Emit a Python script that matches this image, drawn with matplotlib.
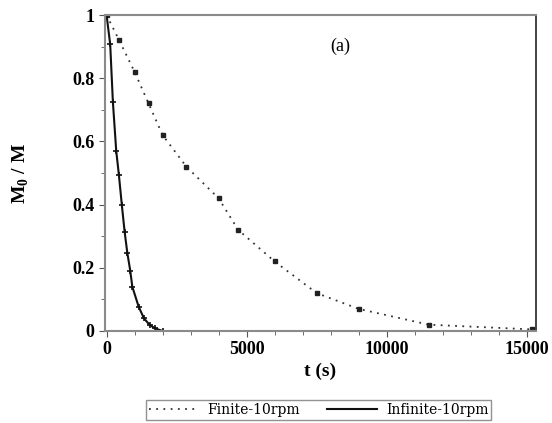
import matplotlib
matplotlib.use("Agg")
import matplotlib.pyplot as plt
from matplotlib.lines import Line2D
from matplotlib.ticker import MultipleLocator

# Data
finite_t = [0, 450, 1000, 1500, 2000, 2850, 4000, 4700, 6000, 7500, 9000, 11500, 15200]
finite_m = [1.0, 0.92, 0.82, 0.72, 0.62, 0.52, 0.42, 0.32, 0.22, 0.12, 0.07, 0.02, 0.005]

infinite_t = [0, 130, 225, 345, 440, 545, 645, 740, 845, 920, 1145, 1335, 1540, 1740, 2000]
infinite_m = [1.0, 0.907, 0.726, 0.57, 0.494, 0.399, 0.314, 0.248, 0.191, 0.14, 0.077,
              0.04, 0.019, 0.008, 0.0]

x_ticks = [0, 5000, 10000, 15000]
y_ticks = [0, 0.2, 0.4, 0.6, 0.8, 1]
y_tick_labels = ["0", "0.2", "0.4", "0.6", "0.8", "1"]

plt.rcParams['font.family'] = 'Liberation Serif'
plt.rcParams['mathtext.fontset'] = 'custom'
plt.rcParams['mathtext.rm'] = 'Liberation Serif:bold'
plt.rcParams['mathtext.bf'] = 'Liberation Serif:bold'

fig = plt.figure(figsize=(5.52, 4.23), dpi=100)
ax = fig.add_axes([0.190, 0.2175, 0.781, 0.747])

dotted = (0, (1, 3))

# Finite series: dotted curve with dark square-ish markers
ax.plot(finite_t, finite_m, linestyle=dotted, color='#333333', linewidth=1.3,
        marker='s', markersize=3.5, markerfacecolor='#222222', markeredgecolor='#222222')
# Infinite series: solid curve with small plus markers
ax.plot(infinite_t, infinite_m, linestyle='-', color='#111111', linewidth=1.5,
        marker='+', markersize=5, markeredgewidth=1.2)

ax.set_xlim(-60, 15330)
ax.set_ylim(0, 1)

ax.set_xticks(x_ticks)
ax.set_xticklabels([str(v) for v in x_ticks])
ax.set_yticks(y_ticks)
ax.set_yticklabels(y_tick_labels)
ax.xaxis.set_minor_locator(MultipleLocator(1000))
ax.yaxis.set_minor_locator(MultipleLocator(0.1))
ax.tick_params(which='both', direction='out', colors='#555555', labelcolor='black',
               labelsize=13)
ax.tick_params(which='major', length=4)
ax.tick_params(which='minor', length=3)
for lbl in ax.get_xticklabels() + ax.get_yticklabels():
    lbl.set_fontweight('bold')

for side in ['left', 'bottom', 'top']:
    ax.spines[side].set_color('#8a8a8a')
    ax.spines[side].set_linewidth(1.5)
ax.spines['right'].set_color('#222222')
ax.spines['right'].set_linewidth(1.2)

ax.set_xlabel('t (s)', fontsize=14, fontweight='bold', labelpad=3)
ax.set_ylabel(r'M$_\mathbf{0}$ / M', fontsize=14, fontweight='bold', labelpad=30)

ax.text(8330, 0.90, '(a)', fontsize=13, ha='center', va='center')

# legend shows line styles only, no markers
handles = [Line2D([], [], linestyle=dotted, color='#333333', linewidth=1.3),
           Line2D([], [], linestyle='-', color='#111111', linewidth=1.5)]
fig.legend(handles, ['Finite-10rpm', 'Infinite-10rpm'], loc='center',
           bbox_to_anchor=(0.577, 0.031), ncol=2,
           prop={'family': 'DejaVu Serif', 'size': 10},
           frameon=True, fancybox=False, edgecolor='#777777', handlelength=3.6,
           borderpad=0.2, columnspacing=2.0, handletextpad=0.6)

fig.savefig('out.png', dpi=100)
